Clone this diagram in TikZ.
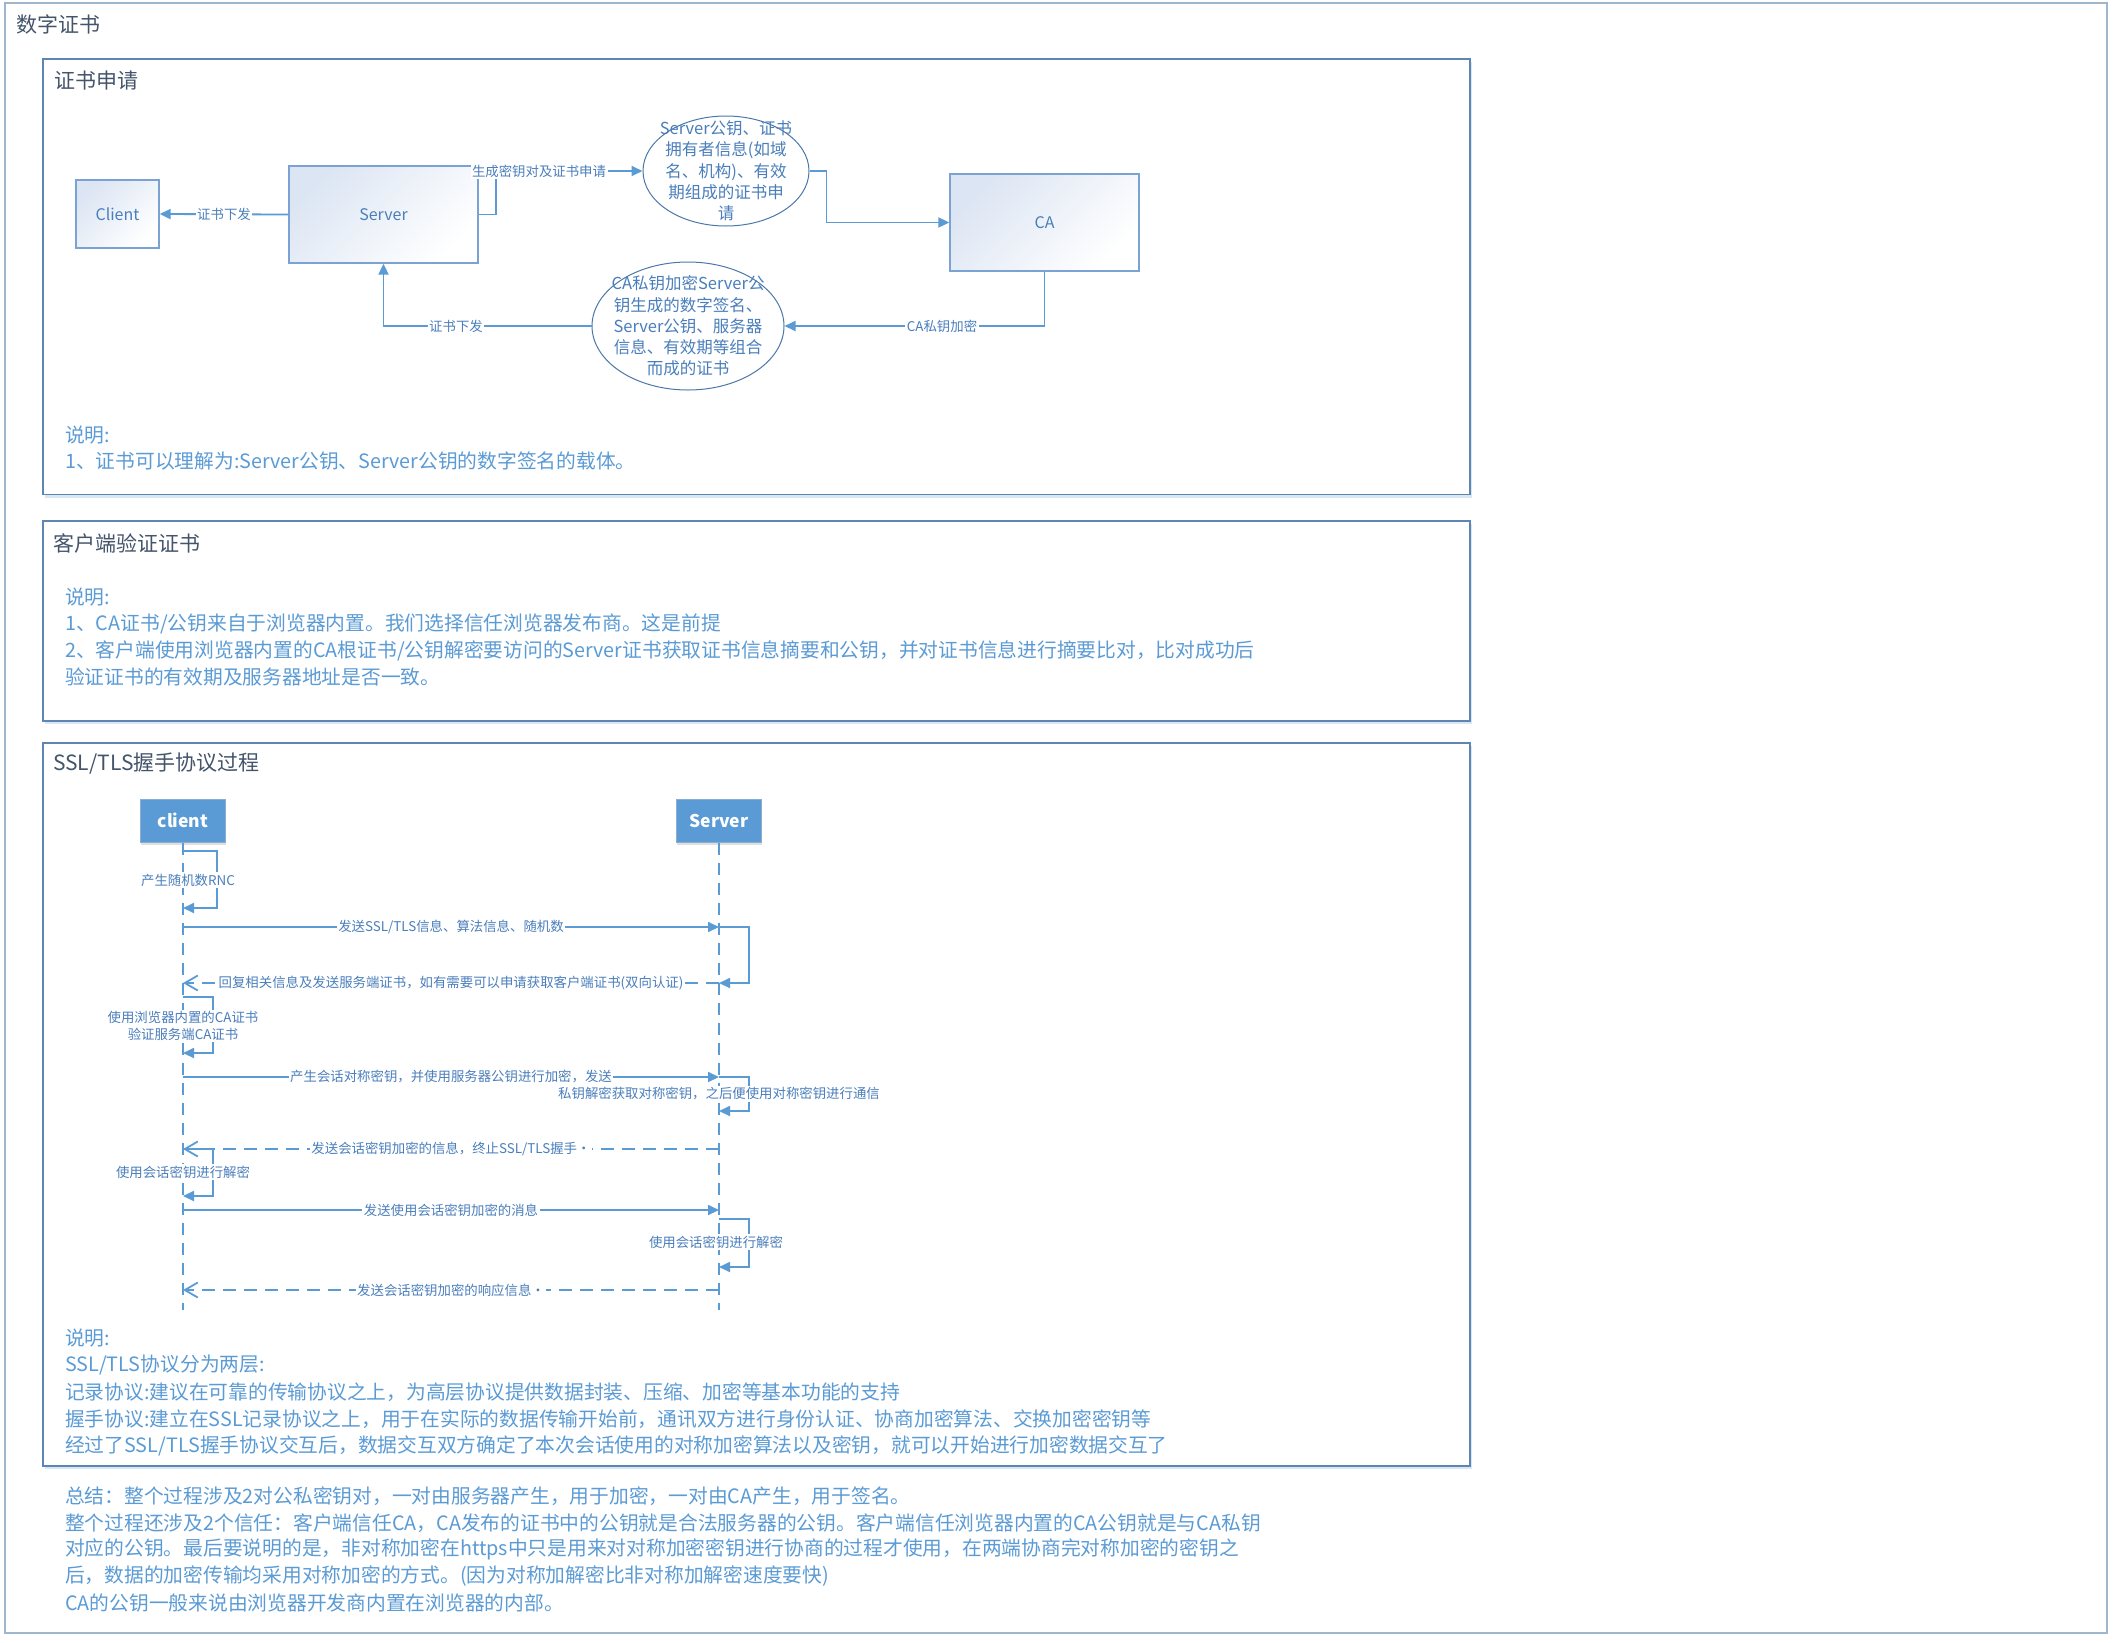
\documentclass[tikz,border=0pt]{standalone}
\usepackage{fontspec}
\setmainfont{Noto Sans CJK SC}
\usetikzlibrary{arrows.meta,shapes.geometric,shadows,calc}
\definecolor{lineblue}{HTML}{5B9BD5}
\definecolor{txtblue}{HTML}{5B9BD5}
\definecolor{lblblue}{HTML}{4A7EBB}
\definecolor{titlegray}{HTML}{44546A}
\definecolor{framecol}{HTML}{5F86B3}
\definecolor{outercol}{HTML}{9FB6CD}
\definecolor{boxedge}{HTML}{7AA3D3}
\definecolor{boxshade}{HTML}{DCE5F3}
\definecolor{elledge}{HTML}{4A78A8}
\definecolor{hdrfill}{HTML}{5B9BD5}
\definecolor{hdredge}{HTML}{8AAED3}
\definecolor{shadowblue}{HTML}{BDD7EE}
\tikzset{
  conn/.style={draw=lineblue, line width=1.8pt},
  arr/.style={conn, -{Triangle[length=11pt,width=10pt]}},
  reply/.style={draw=lineblue, line width=1.8pt, dash pattern=on 13pt off 8pt, -{Straight Barb[length=13pt,width=15pt]}},
  life/.style={draw=lineblue, line width=1.8pt, dash pattern=on 12pt off 8pt},
  lbl/.style={fill=white, inner sep=1.5pt, text=lblblue, font=\fontsize{13.4}{17.5}\selectfont},
  procbox/.style={draw=boxedge, line width=1.3pt, top color=boxshade, bottom color=white, shading angle=45, text=lblblue, font=\fontsize{16}{18}\selectfont, inner sep=0pt},
  bubble/.style={ellipse, draw=elledge, line width=1pt, fill=white, inner sep=0pt},
  bubtxt/.style={align=center, inner sep=0pt, text=lblblue, font=\fontsize{16.5}{21.3}\selectfont},
  sect/.style={draw=framecol, line width=1.2pt, fill=white, drop shadow={shadow xshift=1.5pt, shadow yshift=-3pt, fill=shadowblue, opacity=0.6}},
  hdr/.style={fill=hdrfill, draw=hdredge, line width=1pt, text=white, font=\fontsize{17.5}{20}\selectfont\bfseries, minimum width=85pt, minimum height=43pt, inner sep=0pt, drop shadow={shadow xshift=0pt, shadow yshift=-3pt, opacity=0.25}},
  note/.style={anchor=west, inner sep=0pt, text=txtblue, font=\fontsize{19.75}{24}\selectfont},
  ttl/.style={anchor=west, inner sep=0pt, text=titlegray, font=\fontsize{21}{24}\selectfont}
}
\begin{document}
\begin{tikzpicture}[x=1pt,y=-1pt]
\fill[white] (0,0) rectangle (2114,1642);
\useasboundingbox (0,0) rectangle (2114,1642);
% outer frame
\draw[outercol, line width=2pt] (5,3) rectangle (2107,1633);
\node[ttl] (maintitle) at (16,24) {数字证书};
% sections
\path[sect] (43,59) rectangle (1470,494.5);
\path[sect] (43,521) rectangle (1470,721);
\path[sect] (43,743) rectangle (1470,1466);
\node[ttl] (t1) at (54,81) {证书申请};
\node[ttl] (t2) at (53,543) {客户端验证证书};
\node[ttl] (t3) at (53,764) {SSL/TLS握手协议过程};

% ---------- section 1 ----------
\node[procbox, minimum width=83pt, minimum height=68pt] (client) at (117.5,214) {Client};
\node[procbox, minimum width=189pt, minimum height=97pt] (server) at (383.5,214.5) {Server};
\node[procbox, minimum width=189pt, minimum height=97pt] (ca) at (1044.5,222.5) {CA};
\node[bubble, minimum width=166pt, minimum height=110pt] (req) at (726,171) {};
\node[bubtxt] (reqtxt) at (req.center) {Server公钥、证书\\拥有者信息(如域\\名、机构)、有效\\期组成的证书申\\请};
\node[bubble, minimum width=192pt, minimum height=128pt] (cert) at (688,326) {};
\node[bubtxt] (certtxt) at (cert.center) {CA私钥加密Server公\\钥生成的数字签名、\\Server公钥、服务器\\信息、有效期等组合\\而成的证书};

\draw[arr] (server.west) -- (client.east);
\node[lbl] (l1) at (224,214) {证书下发};
\draw[arr] (server.east) -- ++(17,0) |- (req.west);
\node[lbl] (l2) at (539,171) {生成密钥对及证书申请};
\draw[arr] (req.east) -- ++(17,0) |- (ca.west);
\draw[arr] (ca.south) |- (cert.east);
\node[lbl] (l3) at (942,326) {CA私钥加密};
\draw[arr] (cert.west) -| (server.south);
\node[lbl] (l4) at (456,326) {证书下发};

\node[note] (n11) at (65,435) {说明:};
\node[note] (n12) at (65,461) {1、证书可以理解为:Server公钥、Server公钥的数字签名的载体。};

% ---------- section 2 ----------
\node[note] (n21) at (65,597) {说明:};
\node[note] (n22) at (65,624) {1、CA证书/公钥来自于浏览器内置。我们选择信任浏览器发布商。这是前提};
\node[note] (n23) at (65,651) {2、客户端使用浏览器内置的CA根证书/公钥解密要访问的Server证书获取证书信息摘要和公钥，并对证书信息进行摘要比对，比对成功后};
\node[note] (n24) at (65,677) {验证证书的有效期及服务器地址是否一致。};

% ---------- section 3: sequence ----------
\node[hdr] (cl) at (183,820.5) {client};
\node[hdr] (sv) at (719,820.5) {Server};
\coordinate (clend) at (183,1310);
\coordinate (svend) at (719,1310);
\draw[life] (cl.south) -- (clend);
\draw[life] (sv.south) -- (svend);

\foreach \yy in {851,908,927,983,997,1053,1077,1111,1149,1196,1210,1219,1267,1290}{
  \coordinate (c\yy) at (183,\yy);
  \coordinate (s\yy) at (719,\yy);
}

% client self: random
\draw[arr] (c851) -- ++(34,0) |- (c908);
\node[lbl] (sl1) at (188,880) {产生随机数RNC};
% m1
\draw[arr] (c927) -- (s927) node[lbl, midway] (m1) {发送SSL/TLS信息、算法信息、随机数};
\draw[arr] (s927) -- ++(30,0) |- (s983);
% r1
\draw[reply] (s983) -- (c983) node[lbl, midway] (r1) {回复相关信息及发送服务端证书，如有需要可以申请获取客户端证书(双向认证)};
% client self: verify
\draw[arr] (c997) -- ++(30,0) |- (c1053);
\node[lbl, align=center] (sl2) at (183,1026) {使用浏览器内置的CA证书\\验证服务端CA证书};
% m3
\draw[arr] (c1077) -- (s1077) node[lbl, midway] (m3) {产生会话对称密钥，并使用服务器公钥进行加密，发送};
\draw[arr] (s1077) -- ++(30,0) |- (s1111);
\node[lbl] (sl3) at (719,1094) {私钥解密获取对称密钥，之后便使用对称密钥进行通信};
% r3
\draw[reply] (s1149) -- (c1149) node[lbl, midway] (r3) {发送会话密钥加密的信息，终止SSL/TLS握手·};
\draw[arr] (c1149) -- ++(30,0) |- (c1196);
\node[lbl] (sl4) at (183,1172) {使用会话密钥进行解密};
% m4
\draw[arr] (c1210) -- (s1210) node[lbl, midway] (m4) {发送使用会话密钥加密的消息};
\draw[arr] (s1219) -- ++(30,0) |- (s1267);
\node[lbl] (sl5) at (716,1242) {使用会话密钥进行解密};
% r4
\draw[reply] (s1290) -- (c1290) node[lbl, midway] (r4) {发送会话密钥加密的响应信息·};

\node[note] (n31) at (65,1338) {说明:};
\node[note] (n32) at (65,1365) {SSL/TLS协议分为两层:};
\node[note] (n33) at (65,1392) {记录协议:建议在可靠的传输协议之上，为高层协议提供数据封装、压缩、加密等基本功能的支持};
\node[note] (n34) at (65,1419) {握手协议:建立在SSL记录协议之上，用于在实际的数据传输开始前，通讯双方进行身份认证、协商加密算法、交换加密密钥等};
\node[note] (n35) at (65,1446) {经过了SSL/TLS握手协议交互后，数据交互双方确定了本次会话使用的对称加密算法以及密钥，就可以开始进行加密数据交互了};

% summary
\node[note] (s1) at (65,1496) {总结：整个过程涉及2对公私密钥对，一对由服务器产生，用于加密，一对由CA产生，用于签名。};
\node[note] (s2) at (65,1523) {整个过程还涉及2个信任：客户端信任CA，CA发布的证书中的公钥就是合法服务器的公钥。客户端信任浏览器内置的CA公钥就是与CA私钥};
\node[note] (s3) at (65,1549.5) {对应的公钥。最后要说明的是，非对称加密在https中只是用来对对称加密密钥进行协商的过程才使用，在两端协商完对称加密的密钥之};
\node[note] (s4) at (65,1576) {后，数据的加密传输均采用对称加密的方式。(因为对称加解密比非对称加解密速度要快)};
\node[note] (s5) at (65,1603) {CA的公钥一般来说由浏览器开发商内置在浏览器的内部。};
\end{tikzpicture}
\end{document}
